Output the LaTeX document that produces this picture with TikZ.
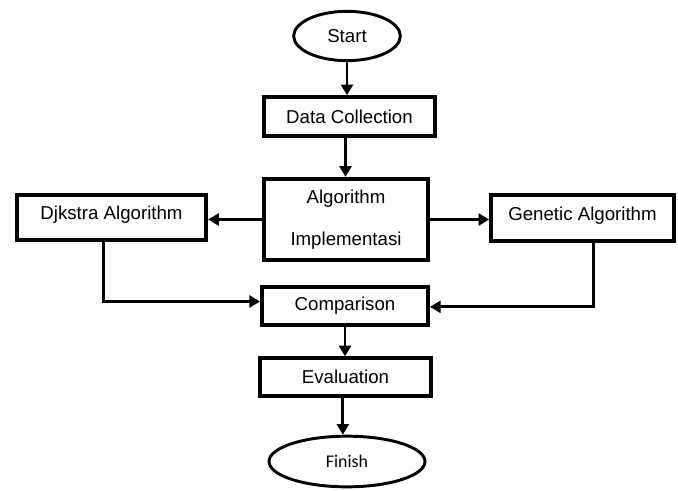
\documentclass[tikz,border=0pt]{standalone}
\usepackage{fontspec}
\setmainfont{Liberation Sans}
\newfontfamily\finfont{Carlito}
\usetikzlibrary{shapes.geometric,arrows.meta}

\begin{document}
\begin{tikzpicture}[x=0.75pt,y=0.75pt,yscale=-1,xscale=1,
  flowbox/.style={draw,line width=3pt,rectangle,inner sep=0pt,align=center,font=\fontsize{14}{17}\selectfont},
  flowend/.style={draw,line width=2.2pt,ellipse,inner sep=0pt,font=\fontsize{14}{17}\selectfont},
  flowarrow/.style={line width=2.2pt,-{Triangle[length=8pt,width=9pt]}}]
\useasboundingbox (0,0) rectangle (678,490);

% Start
\node [flowend,minimum width=80pt,minimum height=37pt] (start) at (347,36) {Start};
% Data Collection
\node [flowbox,minimum width=128pt,minimum height=29pt] (data) at (349.5,116.5) {Data Collection};
% Algorithm Implementasi
\node [flowbox,minimum width=123pt,minimum height=61pt] (algo) at (346,219.5) {Algorithm\\[14pt]Implementasi};
% Djkstra Algorithm
\node [flowbox,minimum width=142pt,minimum height=34pt,text depth=7pt] (djk) at (111.5,217.5) {Djkstra Algorithm};
% Genetic Algorithm
\node [flowbox,minimum width=137pt,minimum height=34.5pt,text depth=7pt] (gen) at (582.5,218) {Genetic Algorithm};
% Comparison
\node [flowbox,minimum width=124.5pt,minimum height=28.5pt] (comp) at (345,305.5) {Comparison};
% Evaluation
\node [flowbox,minimum width=128pt,minimum height=28pt] (eval) at (345.5,377) {Evaluation};
% Finish
\node [flowend,minimum width=117pt,minimum height=38pt,font=\finfont\fontsize{13.4}{16}\selectfont] (fin) at (347,461.5) {Finish};

% Connectors
\draw [flowarrow] (start.south) -- (start.south |- data.north);
\draw [flowarrow] ([xshift=-3pt]data.south) -- ([xshift=-3pt]data.south |- algo.north);
\draw [flowarrow] (algo.west) -- (algo.west -| djk.east);
\draw [flowarrow] (algo.east) -- (algo.east -| gen.west);
\draw [flowarrow] ([xshift=-6pt]djk.south) |- ([yshift=-3pt]comp.west);
\draw [flowarrow] ([xshift=8pt]gen.south) |- ([yshift=1pt]comp.east);
\draw [flowarrow] (comp.south) -- (comp.south |- eval.north);
\draw [flowarrow] ([xshift=-2pt]eval.south) -- ([xshift=-2pt]eval.south |- fin.north);

\end{tikzpicture}
\end{document}
